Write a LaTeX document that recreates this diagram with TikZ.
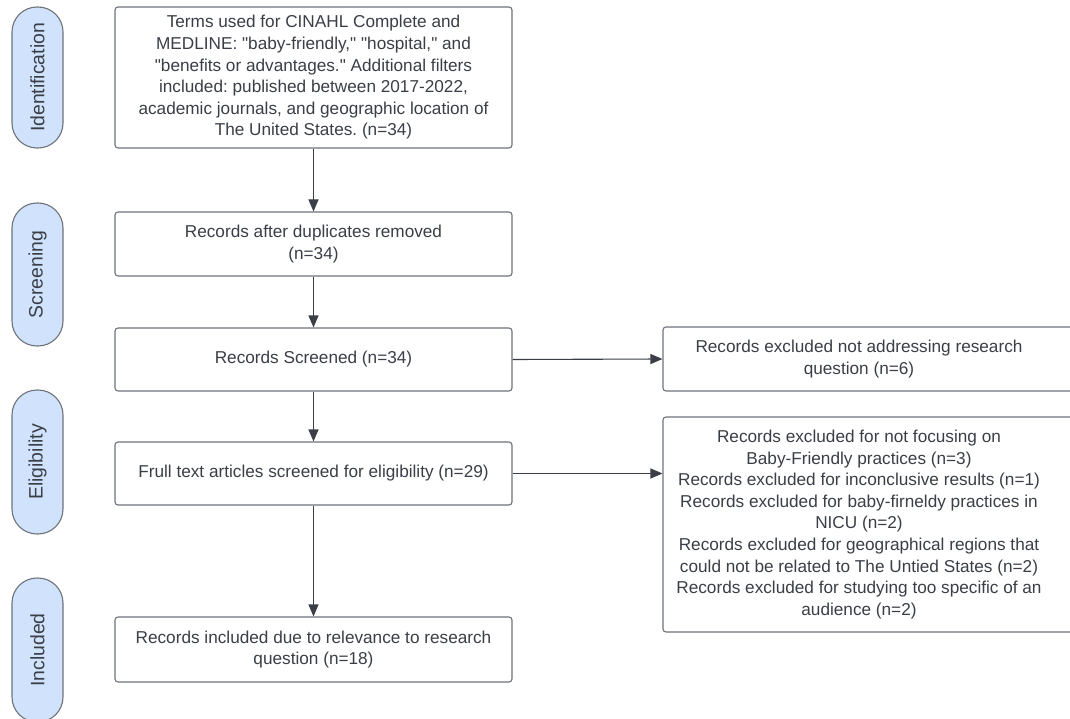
\documentclass[tikz,border=0pt]{standalone}
\usepackage{fontspec}
\setmainfont{Liberation Sans}[Ligatures=TeXOff]
\usetikzlibrary{arrows.meta}
\frenchspacing
\definecolor{pillfill}{HTML}{D0E2FC}
\definecolor{edge}{HTML}{6E737A}
\definecolor{txt}{HTML}{3A3F47}
\definecolor{arr}{HTML}{3A3F47}
\tikzset{
  box/.style={draw=edge, line width=1.1pt, rounded corners=3pt, fill=white, align=center,
    text=txt, font=\fontsize{17.2}{21.6}\selectfont, inner sep=0pt},
  pill/.style={draw=edge, line width=1.1pt, rounded corners=25pt, fill=pillfill,
    minimum width=51pt, inner sep=0pt, text=txt, font=\fontsize{19.4}{22}\selectfont},
  conn/.style={draw=arr, line width=1.1pt, -{Triangle[length=12pt,width=10pt]}}
}
\begin{document}
\begin{tikzpicture}[x=1pt,y=-1pt]
\path[use as bounding box, clip] (0,0) rectangle (1070,719);
\fill[white] (0,0) rectangle (1070,719);
% phase pills
\node[pill, minimum height=141pt] (pI) at (37.5,77.5) {\rotatebox{90}{Identification}};
\node[pill, minimum height=143pt] (pS) at (37.5,274.5) {\rotatebox{90}{Screening}};
\node[pill, minimum height=144pt] (pE) at (37.5,462) {\rotatebox{90}{Eligibility}};
\node[pill, minimum height=144pt] (pN) at (37.5,650) {\rotatebox{90}{Included}};
% main boxes
\node[box, minimum width=397pt, minimum height=141pt] (b1) at (313.5,77.5)
  {Terms used for CINAHL Complete and\\MEDLINE: "baby-friendly," "hospital," and\\"benefits or advantages." Additional filters\\included: published between 2017-2022,\\academic journals, and geographic location of\\The United States. (n=34)};
\node[box, minimum width=397pt, minimum height=64pt] (b2) at (313.5,244)
  {Records after duplicates removed\\(n=34)};
\node[box, minimum width=397pt, minimum height=63pt] (b3) at (313.5,359.5)
  {Records Screened (n=34)};
\node[box, minimum width=397pt, minimum height=63pt] (b4) at (313.5,473.5)
  {Frull text articles screened for eligibility (n=29)};
\node[box, minimum width=397pt, minimum height=65pt] (b5) at (313.5,649.5)
  {Records included due to relevance to research\\question (n=18)};
% right boxes (cut by the right edge)
\node[box, minimum width=417pt, minimum height=64pt] (r1) at (871.5,359) {};
\node[txt, align=center, font=\fontsize{17.2}{21.6}\selectfont] (r1t) at (859,359)
  {Records excluded not addressing research\\question (n=6)};
\node[box, minimum width=417pt, minimum height=215pt] (r2) at (871.5,524.5) {};
\node[txt, align=center, font=\fontsize{17.2}{21.6}\selectfont] (r2t) at (859,524.5)
  {Records excluded for not focusing on\\Baby-Friendly practices (n=3)\\Records excluded for inconclusive results (n=1)\\Records excluded for baby-firneldy practices in\\NICU (n=2)\\Records excluded for geographical regions that\\could not be related to The Untied States (n=2)\\Records excluded for studying too specific of an\\audience (n=2)};
% connectors
\draw[conn] (b1.south) -- (b2.north);
\draw[conn] (b2.south) -- (b3.north);
\draw[conn] (b3.south) -- (b4.north);
\draw[conn] (b4.south) -- (b5.north);
\draw[conn] (b3.east) -- (r1.west);
\draw[conn] (b4.east) -- (b4.east -| r2.west);
\end{tikzpicture}
\end{document}
